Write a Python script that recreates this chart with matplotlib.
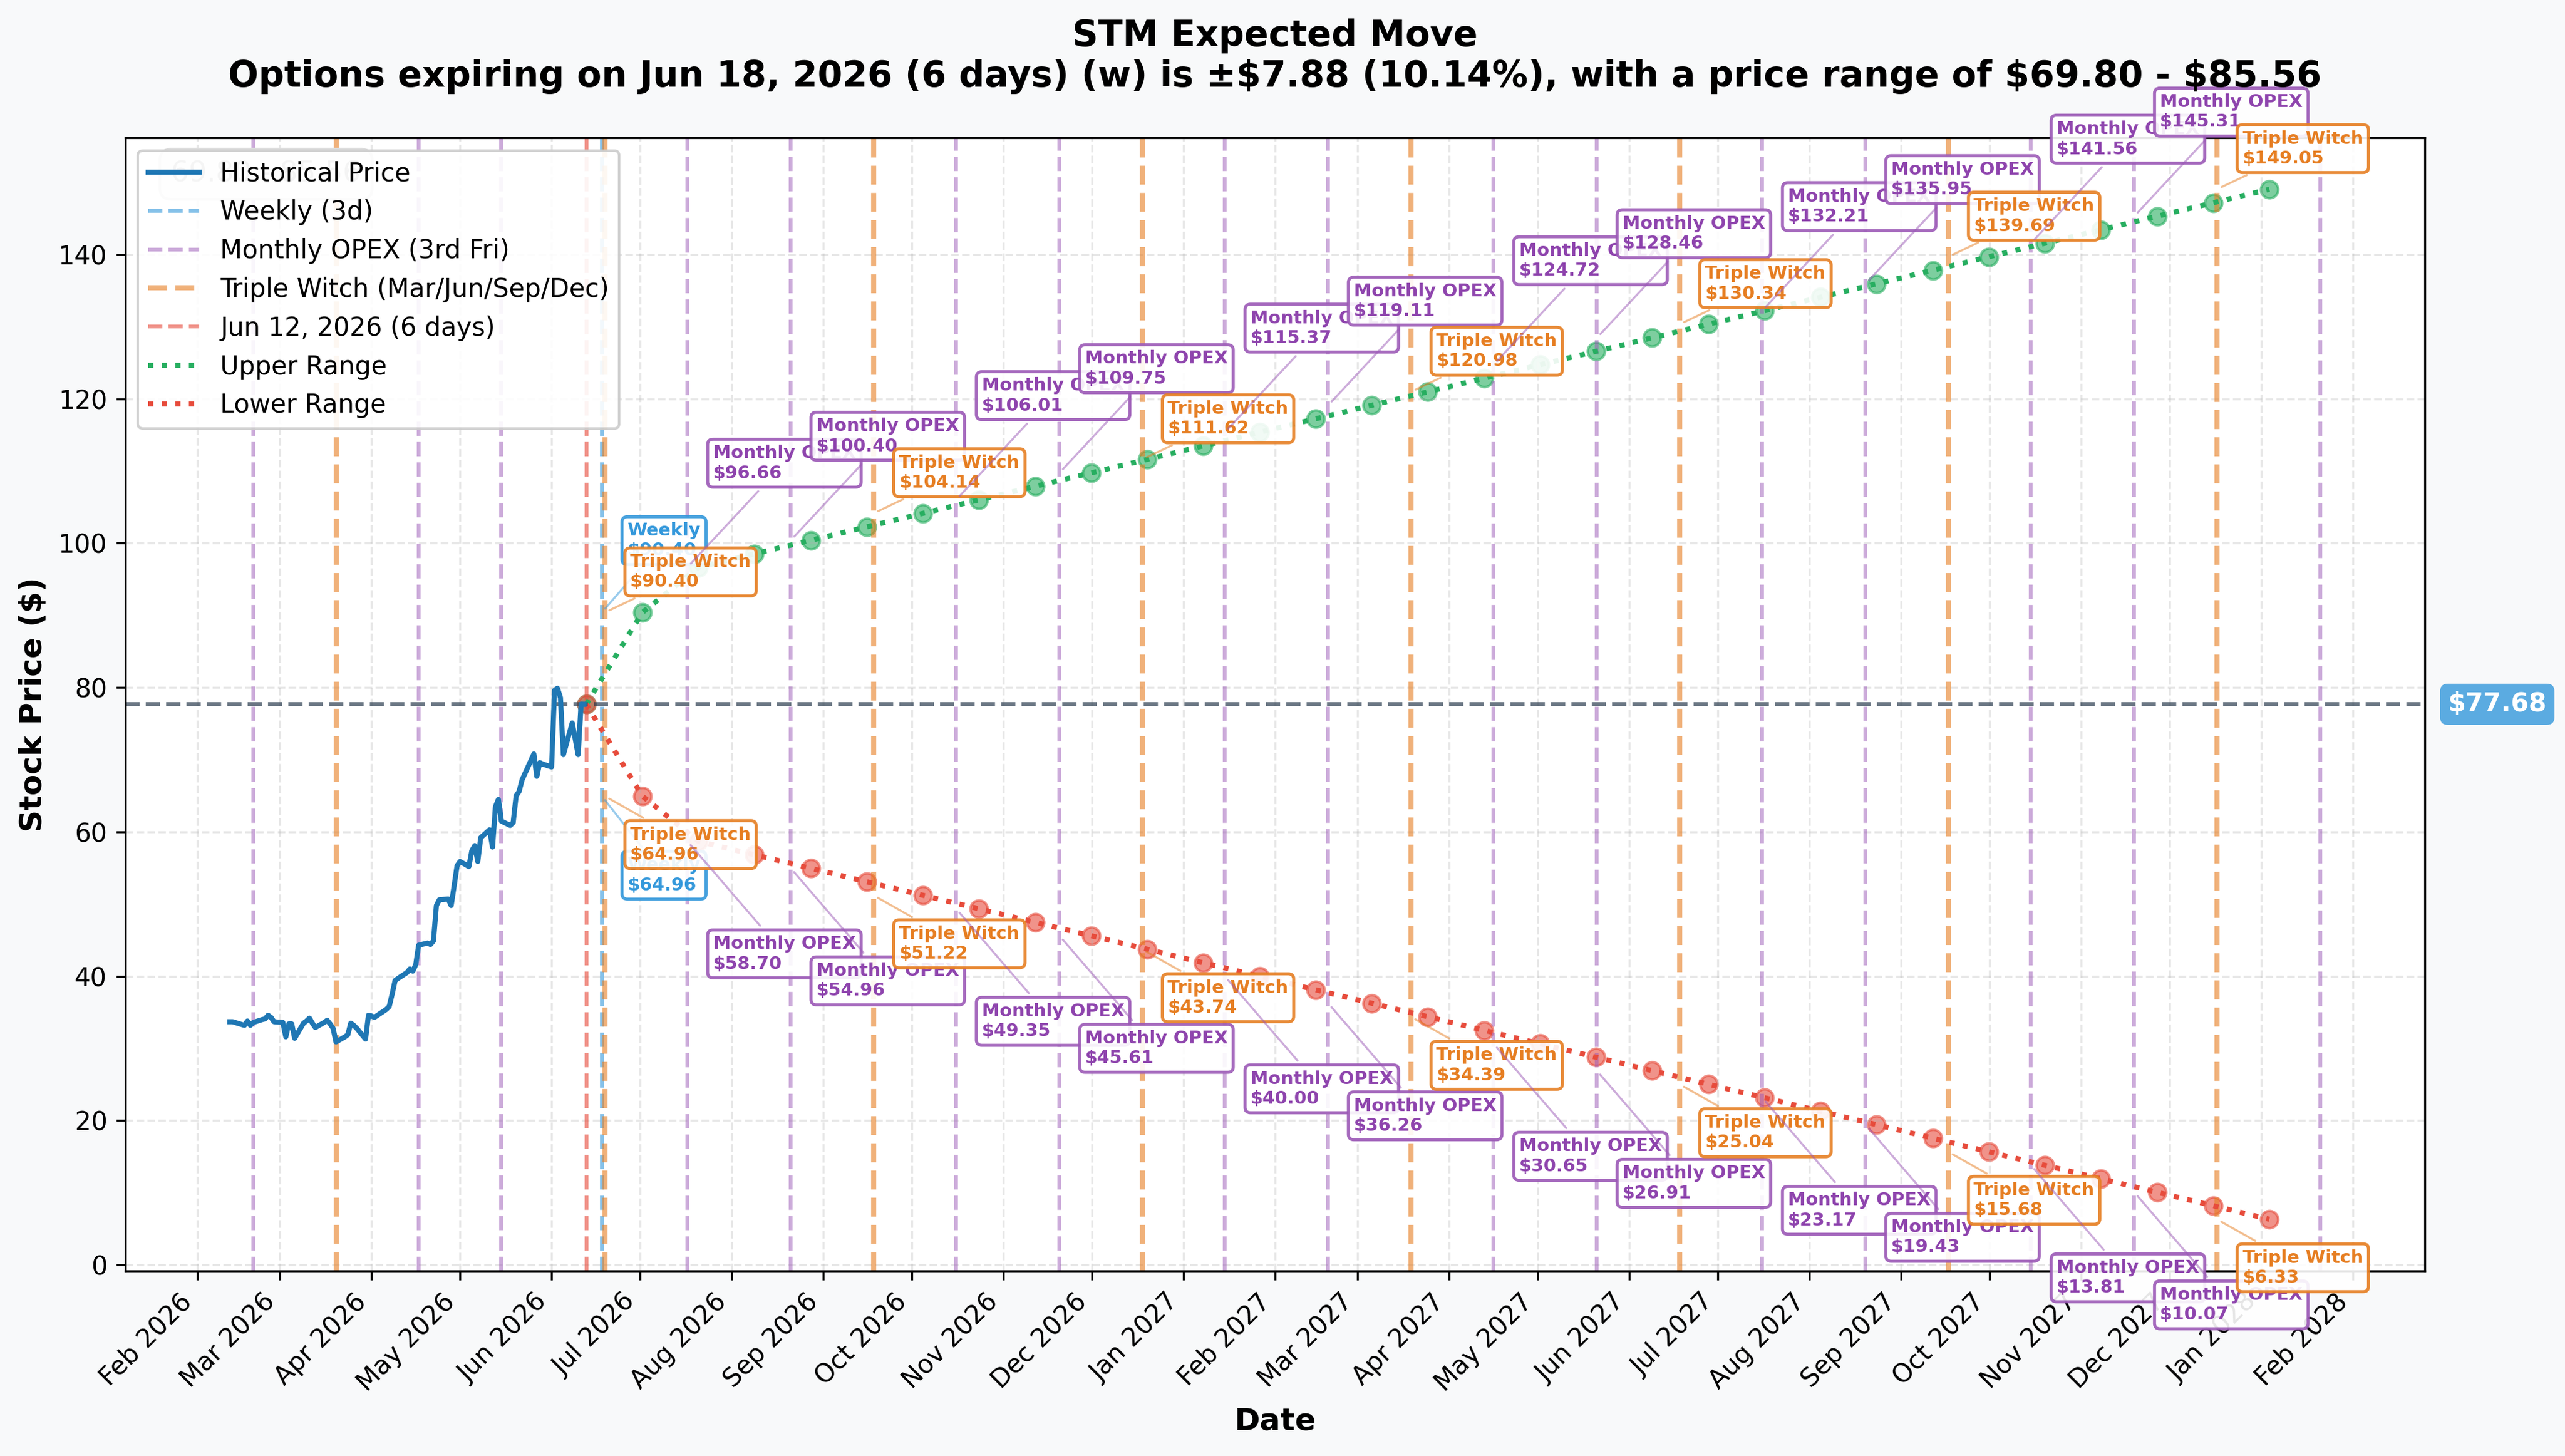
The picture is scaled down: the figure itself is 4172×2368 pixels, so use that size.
import matplotlib
matplotlib.use("Agg")
import matplotlib.pyplot as plt
import matplotlib.dates as mdates
import pandas as pd

# ---------------- data ----------------
ticker = "STM"
current_price = 77.68
current_time = pd.Timestamp("2026-06-12 18:00")
current_label = "Jun 12, 2026 (6 days)"
title_line2 = ("Options expiring on Jun 18, 2026 (6 days) (w) is \u00b1\\$7.88 (10.14%), "
               "with a price range of \\$69.80 - \\$85.56")
range_text = "69.80 - 85.56"

hist_holidays = ["2026-02-16", "2026-04-03", "2026-05-25"]
hist_prices = [
    # Feb
    33.7, 33.7, 33.2, 33.8, 33.2, 33.6, 34.0, 34.1, 34.6, 34.3, 33.7,
    # Mar
    33.6, 31.6, 33.4, 33.4, 31.4, 33.5, 33.8, 34.2, 33.5, 32.9, 33.6,
    33.9, 33.4, 32.8, 30.9, 31.6, 31.9, 33.5, 33.2, 32.8, 31.3, 34.6,
    # Apr
    34.5, 34.3, 35.4, 35.8, 37.5, 39.4, 39.7, 40.5, 41.0, 40.7, 41.6,
    44.3, 44.6, 44.4, 44.9, 49.8, 50.6, 50.7, 49.8, 52.5, 55.3,
    # May
    55.9, 55.2, 57.4, 58.1, 55.9, 59.2, 60.3, 57.9, 63.5, 64.5, 61.5,
    60.9, 61.3, 65.0, 65.6, 67.2, 70.8, 67.7, 69.6, 69.4,
    # Jun
    69.0, 79.6, 79.9, 78.6, 70.7, 75.1, 72.9, 70.7, 77.7, 77.68,
]

range_dates = [
    "2026-07-01 18:00", "2026-07-20 18:00", "2026-08-08 18:00", "2026-08-27 18:00",
    "2026-09-15 18:00", "2026-10-04 18:00", "2026-10-23 18:00", "2026-11-11 18:00",
    "2026-11-30 18:00", "2026-12-19 18:00", "2027-01-07 18:00", "2027-01-26 18:00",
    "2027-02-14 18:00", "2027-03-05 18:00", "2027-03-24 18:00", "2027-04-12 18:00",
    "2027-05-01 18:00", "2027-05-20 18:00", "2027-06-08 18:00", "2027-06-27 18:00",
    "2027-07-16 18:00", "2027-08-04 18:00", "2027-08-23 18:00", "2027-09-11 18:00",
    "2027-09-30 18:00", "2027-10-19 18:00", "2027-11-07 18:00", "2027-11-26 18:00",
    "2027-12-15 18:00", "2028-01-03 18:00",
]
upper_vals = [
    90.40, 96.66, 98.53, 100.40, 102.27, 104.14, 106.01, 107.88, 109.75, 111.62,
    113.50, 115.37, 117.24, 119.11, 120.98, 122.85, 124.72, 126.59, 128.46, 130.34,
    132.21, 134.08, 135.95, 137.82, 139.69, 141.56, 143.43, 145.31, 147.18, 149.05,
]
lower_vals = [
    64.96, 58.70, 56.83, 54.96, 53.09, 51.22, 49.35, 47.48, 45.61, 43.74,
    41.86, 40.00, 38.12, 36.26, 34.39, 32.52, 30.65, 28.78, 26.91, 25.04,
    23.17, 21.30, 19.43, 17.56, 15.68, 13.81, 11.94, 10.07, 8.20, 6.33,
]

weekly_date = "2026-06-18"
monthly_opex_dates = [
    "2026-02-20", "2026-04-17", "2026-05-15", "2026-07-17", "2026-08-21",
    "2026-10-16", "2026-11-20", "2027-01-15", "2027-02-19", "2027-04-16",
    "2027-05-21", "2027-07-16", "2027-08-20", "2027-10-15", "2027-11-19",
    "2028-01-21",
]
triple_witch_dates = [
    "2026-03-20", "2026-06-19", "2026-09-18", "2026-12-18",
    "2027-03-19", "2027-06-18", "2027-09-17", "2027-12-17",
]

ann_types = [
    "Weekly", "Triple Witch", "Monthly OPEX", "Monthly OPEX", "Triple Witch",
    "Monthly OPEX", "Monthly OPEX", "Triple Witch", "Monthly OPEX", "Monthly OPEX",
    "Triple Witch", "Monthly OPEX", "Monthly OPEX", "Triple Witch", "Monthly OPEX",
    "Monthly OPEX", "Triple Witch", "Monthly OPEX", "Monthly OPEX", "Triple Witch",
]
ann_dates = [
    "2026-06-18", "2026-06-19", "2026-07-17", "2026-08-21", "2026-09-18",
    "2026-10-16", "2026-11-20", "2026-12-18", "2027-01-15", "2027-02-19",
    "2027-03-19", "2027-04-16", "2027-05-21", "2027-06-18", "2027-07-16",
    "2027-08-20", "2027-09-17", "2027-10-15", "2027-11-19", "2027-12-17",
]
ann_upper = [
    90.40, 90.40, 96.66, 100.40, 104.14, 106.01, 109.75, 111.62, 115.37, 119.11,
    120.98, 124.72, 128.46, 130.34, 132.21, 135.95, 139.69, 141.56, 145.31, 149.05,
]
ann_lower = [
    64.96, 64.96, 58.70, 54.96, 51.22, 49.35, 45.61, 43.74, 40.00, 36.26,
    34.39, 30.65, 26.91, 25.04, 23.17, 19.43, 15.68, 13.81, 10.07, 6.33,
]

# ---------------- styling ----------------
C_HIST = "#1f77b4"
C_WEEK = "#3498db"
C_MON = "#9b59b6"
C_MON_TXT = "#8e44ad"
C_TW = "#e67e22"
C_NOW = "#e74c3c"
C_UP = "#27ae60"
C_LO = "#e74c3c"
C_PRICE = "#2c3e50"

type_style = {
    "Weekly": dict(edge=C_WEEK, text=C_WEEK, up=20.8, lo=-23.6),
    "Triple Witch": dict(edge=C_TW, text=C_TW, up=8.6, lo=-11.7),
    "Monthly OPEX": dict(edge=C_MON, text=C_MON_TXT, up=33.4, lo=-36.7),
}

W, H, DPI = 4172, 2368, 300
fig = plt.figure(figsize=(W / DPI, H / DPI), dpi=DPI, facecolor="#f8f9fa")
ax = fig.add_axes([203.6 / W, 1 - 2066.7 / H, (3944 - 203.6) / W, (2066.7 - 224) / H])
ax.set_facecolor("white")

hist_dates = pd.bdate_range("2026-02-12", "2026-06-12", freq="C", holidays=hist_holidays)
ax.plot(hist_dates, hist_prices, color=C_HIST, lw=2, label="Historical Price", zorder=3)

ax.axvline(pd.Timestamp(weekly_date), color=C_WEEK, ls="--", lw=1.5, alpha=0.6,
           label="Weekly (3d)")
for i, d in enumerate(monthly_opex_dates):
    ax.axvline(pd.Timestamp(d), color=C_MON, ls="--", lw=1.5, alpha=0.5,
               label="Monthly OPEX (3rd Fri)" if i == 0 else None)
for i, d in enumerate(triple_witch_dates):
    ax.axvline(pd.Timestamp(d), color=C_TW, ls="--", lw=2, alpha=0.6,
               label="Triple Witch (Mar/Jun/Sep/Dec)" if i == 0 else None)
ax.axvline(current_time, color=C_NOW, ls="--", lw=1.5, alpha=0.6, label=current_label)

rd = pd.to_datetime(range_dates)
up_x = [current_time] + list(rd)
up_y = [current_price] + upper_vals
lo_y = [current_price] + lower_vals
ax.plot(up_x, up_y, color=C_UP, ls=":", lw=2, label="Upper Range")
ax.plot(up_x, lo_y, color=C_LO, ls=":", lw=2, label="Lower Range")
ax.scatter(up_x, up_y, s=45, color=C_UP, alpha=0.6, edgecolors=C_UP, linewidths=1)
ax.scatter(up_x, lo_y, s=45, color=C_LO, alpha=0.6, edgecolors=C_LO, linewidths=1)

ax.axhline(current_price, color=C_PRICE, ls="--", lw=1.5, alpha=0.7)
ax.text(1.01, current_price, f"\\${current_price:.2f}", transform=ax.get_yaxis_transform(),
        color="white", fontsize=10, fontweight="bold", va="center", ha="left",
        bbox=dict(boxstyle="round,pad=0.3", facecolor=C_WEEK, edgecolor="none", alpha=0.8))

for t, d, uv, lv in zip(ann_types, ann_dates, ann_upper, ann_lower):
    st = type_style[t]
    dd = pd.Timestamp(d)
    for val, off, va in ((uv, st["up"], "bottom"), (lv, st["lo"], "top")):
        ax.annotate(f"{t}\n\\${val:.2f}", xy=(dd, val), xytext=(10, off),
                    textcoords="offset points", ha="left", va=va,
                    fontsize=7, fontweight="bold", color=st["text"],
                    bbox=dict(boxstyle="round,pad=0.3", facecolor="white",
                              edgecolor=st["edge"], lw=1.2, alpha=0.9),
                    arrowprops=dict(arrowstyle="-", color=st["edge"], alpha=0.5, lw=0.8))

ax.text(0.02, 0.98, range_text, transform=ax.transAxes, fontsize=11, color="#999999",
        va="top", ha="left",
        bbox=dict(boxstyle="round,pad=0.4", facecolor="#f7f7f7", edgecolor="#dddddd"))

ax.xaxis.set_major_locator(mdates.MonthLocator())
ax.xaxis.set_major_formatter(mdates.DateFormatter("%b %Y"))
plt.setp(ax.get_xticklabels(), rotation=45, ha="right")
ax.grid(True, linestyle="--", alpha=0.3)

ax.set_xlabel("Date", fontsize=12, fontweight="bold")
ax.set_ylabel("Stock Price (\\$)", fontsize=12, fontweight="bold")
ax.set_title(f"{ticker} Expected Move\n{title_line2}", fontsize=14, fontweight="bold", pad=20)

leg = ax.legend(loc="upper left", fontsize=10, framealpha=0.9)

fig.savefig("out.png", dpi=DPI, facecolor=fig.get_facecolor())
